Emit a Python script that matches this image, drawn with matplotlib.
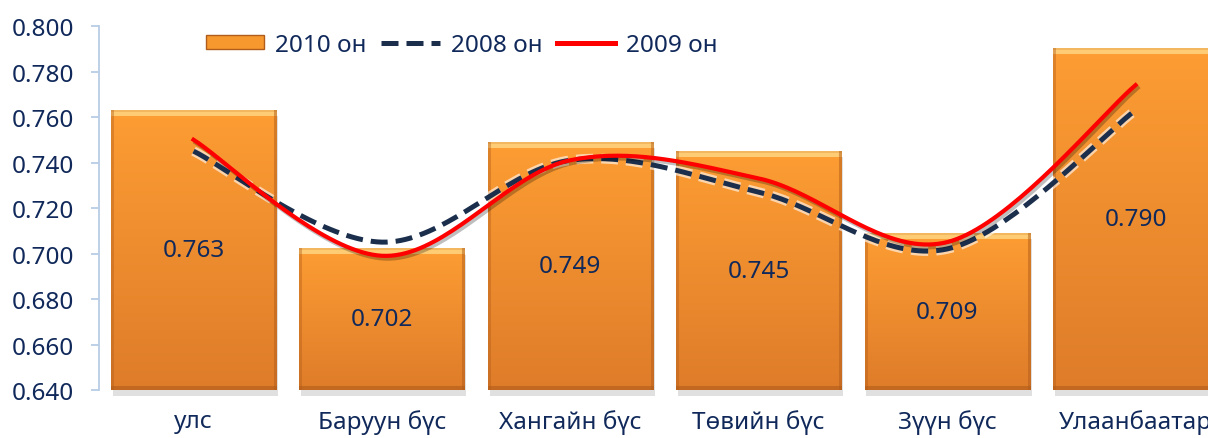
import numpy as np
import matplotlib
matplotlib.use('Agg')
import matplotlib.pyplot as plt
from matplotlib.patches import Rectangle, Patch
from matplotlib.lines import Line2D
import matplotlib.patheffects as pe

plt.rcParams['font.family'] = ['Noto Sans', 'DejaVu Sans']

# --- data ---
categories = ['улс', 'Баруун бүс', 'Хангайн бүс', 'Төвийн бүс', 'Зүүн бүс', 'Улаанбаатар']
vals_2010 = [0.763, 0.702, 0.749, 0.745, 0.709, 0.790]
vals_2008 = [0.745, 0.705, 0.741, 0.727, 0.702, 0.763]
vals_2009 = [0.750, 0.699, 0.741, 0.733, 0.705, 0.774]
yticks = [0.640, 0.660, 0.680, 0.700, 0.720, 0.740, 0.760, 0.780, 0.800]

TEXT = '#10295a'
AXIS = '#b9cde5'
FS = 17.5


def smooth(xs, ys, n=40):
    # catmull-rom, like excel "smoothed line"
    xs = np.asarray(xs, float)
    ys = np.asarray(ys, float)
    px = np.concatenate([[xs[0]], xs, [xs[-1]]])
    py = np.concatenate([[ys[0]], ys, [ys[-1]]])
    ox, oy = [], []
    for i in range(1, len(px) - 2):
        t = np.linspace(0, 1, n, endpoint=False)
        for arr, out in ((px, ox), (py, oy)):
            p0, p1, p2, p3 = arr[i - 1], arr[i], arr[i + 1], arr[i + 2]
            out.extend(0.5 * ((2 * p1) + (-p0 + p2) * t
                              + (2 * p0 - 5 * p1 + 4 * p2 - p3) * t ** 2
                              + (-p0 + 3 * p1 - 3 * p2 + p3) * t ** 3))
    ox.append(xs[-1])
    oy.append(ys[-1])
    return np.array(ox), np.array(oy)


def hexrgb(h):
    h = h.lstrip('#')
    return np.array([int(h[i:i + 2], 16) / 255 for i in (0, 2, 4)])


fig = plt.figure(figsize=(12.08, 4.39), dpi=100)
ax = fig.add_axes([0.0822, 0.1093, 0.9358, 0.8292])

ymin, ymax = 0.64, 0.80
px_per_unit = 364 / (ymax - ymin)
bw = 0.876
bar_px = 165

top_c = hexrgb('#fd9d33')
bot_c = hexrgb('#de7c2a')
hi_c = hexrgb('#ffdc8a')
dark_c = hexrgb('#b05c1a')

x = np.arange(len(categories))
for xi, v in zip(x, vals_2010):
    hpx = int((v - ymin) * px_per_unit)
    img = np.zeros((hpx, bar_px, 3))
    rows = np.arange(hpx)[:, None] / max(hpx - 1, 1)
    img[:] = top_c * (1 - rows[..., None]) + bot_c * rows[..., None]
    # bevel edges
    img[:6, :] = img[:6, :] * 0.25 + hi_c * 0.75
    img[:2, :] = img[:2, :] * 0.5 + hexrgb('#e9a24a') * 0.5
    img[-4:, :] = img[-4:, :] * 0.4 + dark_c * 0.6
    img[:, :3] = img[:, :3] * 0.6 + dark_c * 0.4
    img[:, -3:] = img[:, -3:] * 0.5 + dark_c * 0.5
    # soft shadow
    ax.add_patch(Rectangle((xi - bw / 2 + 0.01, ymin - 6 / px_per_unit), bw, v - ymin,
                           facecolor='#000000', alpha=0.12, edgecolor='none',
                           clip_on=False, zorder=1))
    ax.imshow(img, extent=[xi - bw / 2, xi + bw / 2, ymin, v], aspect='auto',
              interpolation='bilinear', zorder=2, clip_on=False)
    ax.text(xi, (ymin + v) / 2, f'{v:.3f}', ha='center', va='center',
            fontsize=FS, color=TEXT, zorder=6)

sx, sy = smooth(x, vals_2008)
ax.plot(sx, sy, color='#1b2f4d', lw=3.6, ls=(0, (3.4, 1.6)), zorder=4,
        solid_capstyle='butt',
        path_effects=[pe.Stroke(linewidth=7, foreground='white', alpha=0.6), pe.Normal()])
sx, sy = smooth(x, vals_2009)
ax.plot(sx, sy, color='#ff0000', lw=3.0, zorder=5,
        path_effects=[pe.SimpleLineShadow(offset=(1.5, -2), alpha=0.25), pe.Normal()])

ax.set_xlim(-0.5, len(categories) - 0.5)
ax.set_ylim(ymin, ymax)
ax.set_yticks(yticks)
ax.set_yticklabels([f'{t:.3f}' for t in yticks])
ax.set_xticks(x)
ax.set_xticklabels(categories)

for s in ['top', 'right', 'bottom']:
    ax.spines[s].set_visible(False)
ax.spines['left'].set_color(AXIS)
ax.spines['left'].set_linewidth(1.3)
ax.tick_params(axis='y', colors=AXIS, length=6, width=1.3, labelcolor=TEXT,
               labelsize=FS, pad=12)
ax.tick_params(axis='x', length=0, labelcolor=TEXT, labelsize=FS, pad=14)

handles = [Patch(facecolor='#f7982f', edgecolor='#b05c1a', lw=1),
           Line2D([], [], color='#1b2f4d', lw=3.6, ls=(0, (3.4, 1.6))),
           Line2D([], [], color='#ff0000', lw=3.6)]
fig.legend(handles, ['2010 он', '2008 он', '2009 он'], loc='center left',
           bbox_to_anchor=(206 / 1208, 1 - 46 / 439), ncol=3, frameon=False,
           fontsize=FS, labelcolor=TEXT, handlelength=2.4, handleheight=0.5,
           handletextpad=0.45, columnspacing=0.6, borderpad=0, borderaxespad=0)

fig.savefig('out.png', dpi=100)
